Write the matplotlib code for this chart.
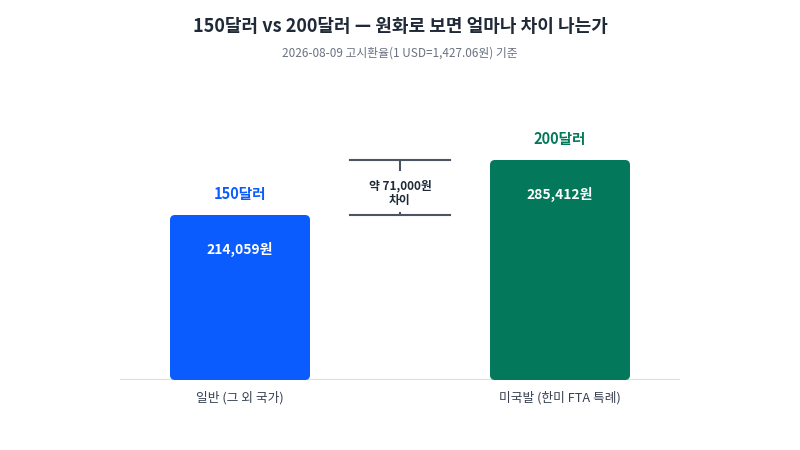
import matplotlib
matplotlib.use("Agg")
import matplotlib.pyplot as plt
from matplotlib.patches import FancyBboxPatch

plt.rcParams["font.family"] = ["Noto Sans CJK KR", "DejaVu Sans"]

categories = ["일반 (그 외 국가)", "미국발 (한미 FTA 특례)"]
usd_labels = ["150달러", "200달러"]
krw_values = [214059, 285412]
bar_colors = ["#0b5cff", "#03785a"]
diff_text = "약 71,000원\n차이"

W, H = 800, 450
fig = plt.figure(figsize=(W / 100, H / 100), dpi=100)
fig.patch.set_facecolor("white")

# axes spans pixel x 120..680, y 100..380 (baseline)
ax = fig.add_axes([120 / W, (H - 380) / H, 560 / W, 280 / H])
ax.axis("off")
x_per_px = 1 / 320
y_per_px = krw_values[0] / 165
ax.set_xlim(-120 * x_per_px, 1 + 120 * x_per_px)
ax.set_ylim(0, 280 * y_per_px)

bar_w = 140 * x_per_px
for i, (v, c) in enumerate(zip(krw_values, bar_colors)):
    box = FancyBboxPatch((i - bar_w / 2, 0), bar_w, v,
                         boxstyle=f"round,pad=0,rounding_size={5 * x_per_px}",
                         mutation_aspect=y_per_px / x_per_px,
                         facecolor=c, edgecolor="none", zorder=2)
    ax.add_patch(box)
    ax.text(i, v - 34 * y_per_px, f"{v:,}원", ha="center", va="center",
            color="white", fontsize=10, fontweight="bold", zorder=3)
    ax.text(i, v + 21 * y_per_px, usd_labels[i], ha="center", va="center",
            color=c, fontsize=10.5, fontweight="bold")
    ax.text(i, -18 * y_per_px, categories[i], ha="center", va="center",
            color="#374151", fontsize=9.2, clip_on=False)

# baseline
ax.plot([-120 * x_per_px, 1 + 120 * x_per_px], [0, 0], color="#dcdfe3",
        lw=1.5, zorder=1, solid_capstyle="butt")

# difference bracket
lo, hi = krw_values
bx0, bx1 = 0.5 - 50 * x_per_px, 0.5 + 50 * x_per_px
bc = "#4b5563"
ax.plot([bx0, bx1], [hi, hi], color=bc, lw=1.5)
ax.plot([bx0, bx1], [lo, lo], color=bc, lw=1.5)
ax.plot([0.5, 0.5], [hi, hi - 10 * y_per_px], color=bc, lw=1.5)
ax.plot([0.5, 0.5], [lo, lo + 2 * y_per_px], color=bc, lw=1.5)
ax.text(0.5, (hi + lo) / 2 - 6 * y_per_px, diff_text, ha="center", va="center",
        color="#1f2937", fontsize=8.5, fontweight="bold", linespacing=1.15)

fig.text(0.5, 1 - 27 / H, "150달러 vs 200달러 — 원화로 보면 얼마나 차이 나는가",
         ha="center", va="center", fontsize=13, fontweight="bold", color="#1f2937")
fig.text(0.5, 1 - 53 / H, "2026-08-09 고시환율(1 USD=1,427.06원) 기준",
         ha="center", va="center", fontsize=8.5, color="#6b7280")

fig.savefig("out.png", dpi=100, facecolor="white")
